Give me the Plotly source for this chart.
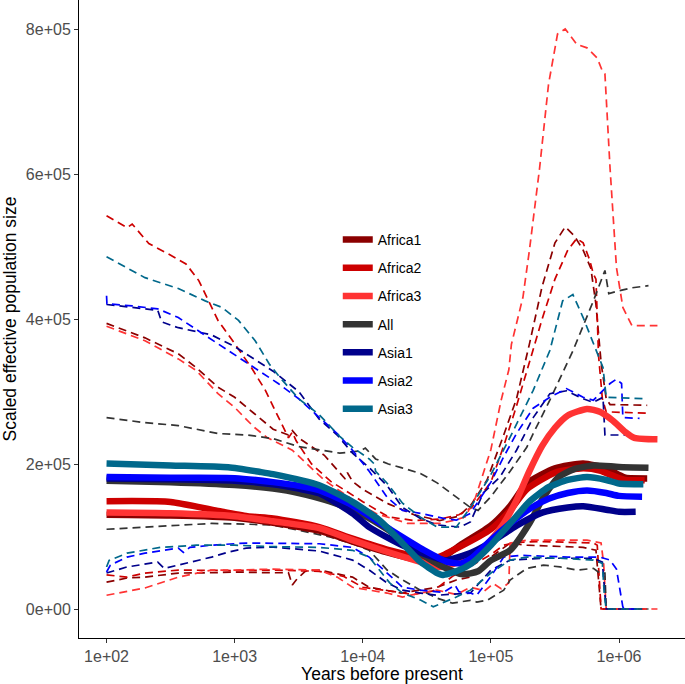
import plotly.graph_objects as go

# ---------------- data (x as log10 of years before present, y = scaled Ne) -------------
NAMES = ["Africa1", "Africa2", "Africa3", "All", "Asia1", "Asia2", "Asia3"]

X_TICK_VALUES = [1e2, 1e3, 1e4, 1e5, 1e6]
X_TICK_LABELS = ["1e+02", "1e+03", "1e+04", "1e+05", "1e+06"]
Y_TICK_VALUES = [0, 2e5, 4e5, 6e5, 8e5]
Y_TICK_LABELS = ["0e+00", "2e+05", "4e+05", "6e+05", "8e+05"]

# median (solid) lines
africa1_logx = [2.0, 2.5, 3.0, 3.3, 3.66, 3.92, 4.19, 4.45, 4.57, 4.76, 5.0, 5.15, 5.28, 5.5, 5.72, 5.9, 6.0, 6.05, 6.22]
africa1_ne = [130000, 129000, 126000, 119000, 108000, 93000, 78000, 67000, 65000, 88000, 115000, 142000, 173000, 194000, 200600, 194000, 185000, 181000, 180000]
africa2_logx = [2.0, 2.5, 2.85, 3.1, 3.3, 3.66, 3.92, 4.19, 4.45, 4.58, 4.76, 5.0, 5.15, 5.28, 5.5, 5.72, 5.85, 5.95, 6.05, 6.2]
africa2_ne = [148700, 147700, 136000, 128000, 125000, 113000, 97000, 82000, 72000, 71000, 86000, 110000, 136000, 165000, 188000, 194000, 191000, 184000, 178000, 177600]
africa3_logx = [2.0, 2.5, 3.0, 3.3, 3.66, 3.92, 4.19, 4.45, 4.6, 4.75, 4.9, 5.0, 5.1, 5.2, 5.3, 5.4, 5.5, 5.6, 5.75, 5.85, 5.95, 6.05, 6.12, 6.3]
africa3_ne = [133000, 132000, 128000, 121000, 111500, 95000, 79000, 65000, 58000, 65000, 78000, 95000, 118000, 150000, 190000, 225000, 250000, 267000, 276000, 272000, 260000, 244000, 236000, 234000]
all_logx = [2.0, 2.5, 3.0, 3.3, 3.5, 3.75, 4.0, 4.2, 4.45, 4.63, 4.78, 4.9, 5.0, 5.15, 5.3, 5.41, 5.53, 5.65, 5.8, 6.0, 6.23]
all_ne = [177000, 175000, 171000, 166000, 160000, 148000, 130000, 109000, 77000, 58000, 48000, 52000, 67000, 81000, 118000, 154000, 182000, 193000, 198000, 196000, 195000]
asia1_logx = [2.0, 2.5, 3.0, 3.3, 3.5, 3.66, 3.92, 4.05, 4.31, 4.58, 4.65, 4.85, 5.0, 5.2, 5.4, 5.6, 5.72, 5.9, 6.0, 6.13]
asia1_ne = [180000, 179000, 177000, 172000, 166000, 159500, 132000, 113000, 88000, 70000, 67000, 78000, 92000, 115000, 133000, 140000, 141800, 137000, 134000, 134000]
asia2_logx = [2.0, 2.5, 3.0, 3.3, 3.5, 3.66, 3.92, 4.22, 4.48, 4.66, 4.77, 4.85, 5.0, 5.15, 5.3, 5.45, 5.6, 5.75, 5.9, 6.0, 6.18]
asia2_ne = [182000, 181000, 180500, 175000, 170000, 164000, 143000, 109000, 81000, 65000, 63000, 70000, 95000, 118000, 138000, 152000, 160000, 163500, 160000, 156000, 155000]
asia3_logx = [2.0, 2.5, 2.95, 3.2, 3.3, 3.66, 3.92, 4.13, 4.31, 4.45, 4.58, 4.62, 4.73, 4.85, 5.0, 5.1, 5.2, 5.3, 5.45, 5.6, 5.75, 5.9, 6.0, 6.19]
asia3_ne = [200600, 198000, 195500, 189000, 186000, 170700, 147800, 122500, 90800, 65000, 49600, 47000, 52000, 63000, 88000, 108000, 128000, 148000, 168000, 178000, 182000, 178000, 173000, 172000]

# upper (dashed) bounds
africa1_up_logx = [2.0, 2.3, 2.56, 2.7, 2.87, 3.0, 3.15, 3.3, 3.42, 3.45, 3.5, 3.7, 3.86, 3.88, 3.92, 4.0, 4.2, 4.4, 4.6, 4.75, 4.85, 4.97, 5.1, 5.2, 5.3, 5.4, 5.5, 5.58, 5.65, 5.72, 5.78, 5.82, 5.86, 5.9, 5.93, 6.22]
africa1_up_ne = [394000, 374000, 352000, 333000, 306000, 292000, 270000, 248000, 240000, 246000, 236000, 212000, 180000, 188000, 176000, 165000, 145000, 130000, 122000, 128000, 145000, 178000, 240000, 290000, 365000, 445000, 505000, 527000, 515000, 495000, 470000, 420000, 340000, 290000, 282000, 281000]
africa2_up_logx = [2.0, 2.16, 2.2, 2.33, 2.48, 2.62, 2.72, 2.77, 2.87, 3.0, 3.13, 3.24, 3.34, 3.42, 3.45, 3.48, 3.6, 3.75, 3.85, 4.0, 4.2, 4.4, 4.6, 4.75, 4.85, 5.0, 5.1, 5.2, 5.3, 5.4, 5.5, 5.6, 5.67, 5.72, 5.77, 5.8, 5.82, 5.84, 5.87, 5.9, 6.22]
africa2_up_ne = [542500, 526000, 531000, 504000, 490000, 476000, 453000, 435000, 398000, 366000, 333000, 301500, 264000, 236000, 244000, 232000, 200000, 176000, 165000, 148000, 127000, 122000, 124000, 130000, 140000, 175000, 225000, 280000, 340000, 400000, 455000, 495000, 511000, 505000, 482000, 462000, 455000, 350000, 290000, 272000, 270000]
africa3_up_logx = [2.0, 2.3, 2.56, 2.7, 2.87, 3.0, 3.15, 3.25, 3.45, 3.7, 3.96, 4.1, 4.35, 4.6, 4.72, 4.8, 4.88, 5.0, 5.08, 5.14, 5.16, 5.25, 5.3, 5.38, 5.45, 5.52, 5.58, 5.67, 5.75, 5.83, 5.87, 5.89, 5.93, 5.98, 6.03, 6.1, 6.3]
africa3_up_ne = [390000, 370000, 345000, 329000, 297000, 278000, 251000, 237000, 219000, 177600, 146000, 132000, 118000, 118000, 122500, 127000, 154000, 220000, 288000, 330000, 365000, 430000, 494000, 608000, 724000, 793000, 800000, 779000, 774000, 760000, 742000, 738000, 608000, 471000, 416000, 391000, 391000]
all_up_logx = [2.0, 2.3, 2.56, 2.77, 2.87, 3.1, 3.3, 3.5, 3.7, 3.82, 3.98, 4.02, 4.1, 4.2, 4.3, 4.45, 4.58, 4.73, 4.84, 4.9, 5.0, 5.15, 5.28, 5.33, 5.46, 5.64, 5.8, 5.89, 5.92, 6.0, 6.1, 6.23]
all_up_ne = [264000, 257000, 253000, 246000, 242000, 240000, 235000, 224000, 218000, 215000, 218000, 222000, 207000, 200000, 195000, 187000, 174000, 154000, 140000, 136000, 155000, 190000, 223000, 242000, 288000, 356000, 425000, 467000, 435000, 439000, 443000, 446000]
asia1_up_logx = [2.0, 2.2, 2.4, 2.43, 2.56, 2.82, 3.0, 3.15, 3.3, 3.5, 3.66, 3.8, 3.92, 4.05, 4.19, 4.31, 4.45, 4.58, 4.76, 4.84, 4.94, 5.07, 5.2, 5.33, 5.46, 5.59, 5.72, 5.8, 5.875, 5.89, 6.13]
asia1_up_ne = [420000, 416000, 412000, 396000, 388000, 378000, 362000, 345000, 328000, 300000, 262000, 240000, 215000, 195000, 170000, 140000, 125000, 116000, 113000, 120000, 160000, 182000, 219000, 264000, 297000, 301000, 290000, 285000, 292000, 240000, 240000]
asia2_up_logx = [2.0, 2.003, 2.2, 2.4, 2.56, 2.82, 3.0, 3.18, 3.34, 3.5, 3.66, 3.8, 3.92, 4.05, 4.19, 4.31, 4.45, 4.63, 4.73, 4.84, 5.0, 5.1, 5.2, 5.33, 5.46, 5.59, 5.72, 5.8, 5.85, 5.93, 5.98, 6.02, 6.03, 6.16]
asia2_up_ne = [432000, 421000, 418000, 414000, 402000, 372000, 350000, 330000, 311000, 290000, 264000, 242000, 219000, 190000, 154000, 136000, 132000, 125000, 122500, 132000, 175000, 210000, 242000, 277000, 292000, 304000, 292000, 288000, 297000, 311000, 317000, 311000, 264000, 263000]
asia3_up_logx = [2.0, 2.3, 2.56, 2.77, 2.9, 3.03, 3.16, 3.27, 3.35, 3.5, 3.66, 3.82, 3.92, 4.05, 4.09, 4.1, 4.19, 4.31, 4.45, 4.58, 4.73, 4.84, 4.99, 5.15, 5.33, 5.46, 5.56, 5.64, 5.72, 5.8, 5.875, 5.9, 6.19]
asia3_up_ne = [486000, 457000, 442000, 425000, 416000, 398000, 370000, 338000, 320000, 290000, 268000, 238000, 223000, 207000, 200000, 190000, 173500, 146000, 126700, 113000, 113000, 140000, 182000, 237000, 301600, 356600, 425000, 433700, 402000, 366000, 333000, 292000, 290000]

# lower (dashed) bounds
africa1_lo_logx = [2.0, 2.16, 2.3, 2.56, 2.82, 3.0, 3.3, 3.42, 3.45, 3.48, 3.55, 3.66, 3.92, 4.05, 4.3, 4.58, 4.73, 4.84, 5.0, 5.15, 5.28, 5.5, 5.72, 5.82, 5.84, 5.86, 6.22]
africa1_lo_ne = [37000, 42700, 44000, 49600, 50000, 51000, 50000, 50000, 33000, 40000, 52000, 53700, 44000, 30000, 22000, 30000, 40000, 44000, 71600, 91000, 88000, 87000, 85000, 81000, 40000, 0, 0]
africa2_lo_logx = [2.0, 2.16, 2.3, 2.56, 3.0, 3.3, 3.66, 3.85, 4.0, 4.2, 4.4, 4.55, 4.7, 4.85, 5.0, 5.1, 5.2, 5.4, 5.6, 5.8, 5.83, 5.85, 5.86, 6.2]
africa2_lo_ne = [47000, 44000, 49600, 53700, 53000, 53700, 52000, 45000, 30000, 25000, 20000, 25000, 45000, 60000, 75000, 88000, 92000, 93000, 92000, 91000, 88000, 30000, 0, 0]
africa3_lo_logx = [2.0, 2.3, 2.56, 2.82, 3.0, 3.3, 3.66, 3.8, 3.92, 4.05, 4.19, 4.31, 4.45, 4.58, 4.73, 4.84, 4.95, 5.02, 5.08, 5.14, 5.15, 5.28, 5.5, 5.75, 5.86, 5.88, 5.9, 6.3]
africa3_lo_ne = [19000, 29000, 44000, 53700, 53700, 55000, 53700, 44000, 30000, 26000, 22000, 16500, 22000, 26000, 20000, 30000, 25000, 35000, 28000, 36000, 91000, 95000, 95000, 95000, 91000, 63000, 0, 0]
all_lo_logx = [2.0, 2.3, 2.56, 2.82, 3.1, 3.3, 3.5, 3.75, 3.92, 4.05, 4.19, 4.31, 4.45, 4.58, 4.7, 4.84, 4.89, 4.97, 5.1, 5.15, 5.28, 5.41, 5.54, 5.67, 5.8, 5.85, 5.89, 5.9, 6.23]
all_lo_ne = [110000, 113000, 115700, 118000, 117000, 115700, 108800, 99000, 90000, 81000, 53700, 40000, 26000, 15000, 8000, 12000, 9600, 12000, 26000, 40000, 56000, 60600, 58000, 53700, 56000, 49600, 49600, 0, 0]
asia1_lo_logx = [2.0, 2.16, 2.4, 2.45, 2.56, 2.82, 2.95, 3.09, 3.3, 3.66, 3.92, 4.05, 4.19, 4.31, 4.45, 4.58, 4.84, 5.0, 5.15, 5.41, 5.8, 5.87, 5.89, 5.9, 6.13]
asia1_lo_ne = [49600, 58000, 64700, 56000, 60600, 71600, 78500, 84000, 85400, 80000, 67500, 53700, 36000, 26000, 22000, 19000, 22000, 53700, 67500, 70000, 70000, 64700, 20000, 0, 0]
asia2_lo_logx = [2.0, 2.03, 2.16, 2.3, 2.56, 2.6, 2.65, 2.82, 3.09, 3.3, 3.66, 3.92, 4.05, 4.19, 4.31, 4.45, 4.63, 4.72, 4.75, 4.84, 4.89, 5.0, 5.1, 5.23, 5.6, 5.85, 5.93, 5.98, 6.03, 6.05, 6.18]
asia2_lo_ne = [51000, 60600, 71600, 77000, 84000, 78000, 85000, 88000, 91000, 91000, 90000, 85000, 71600, 49600, 30000, 26000, 23000, 33000, 24000, 22000, 19000, 45000, 71600, 74000, 71600, 71600, 67500, 55000, 2700, 0, 0]
asia3_lo_logx = [2.0, 2.02, 2.16, 2.42, 2.7, 3.0, 3.3, 3.66, 3.92, 4.05, 4.13, 4.21, 4.31, 4.45, 4.55, 4.73, 4.84, 5.0, 5.15, 5.28, 5.54, 5.8, 5.87, 5.885, 5.9, 6.19]
asia3_lo_ne = [58000, 67000, 77000, 85000, 88000, 88000, 86000, 85000, 81000, 71600, 53700, 36000, 22000, 12400, 3000, 16500, 26000, 49600, 67500, 71600, 70000, 67500, 63000, 20000, 0, 0]

# ---------------- styling -------------
COLORS = ["#8B0000", "#CD0000", "#FF3333", "#333333", "#00008B", "#0000FF", "#00688B"]
FONT = "Liberation Sans, Arial, Helvetica, sans-serif"

solid = [(africa1_logx, africa1_ne), (africa2_logx, africa2_ne), (africa3_logx, africa3_ne),
         (all_logx, all_ne), (asia1_logx, asia1_ne), (asia2_logx, asia2_ne), (asia3_logx, asia3_ne)]
upper = [(africa1_up_logx, africa1_up_ne), (africa2_up_logx, africa2_up_ne), (africa3_up_logx, africa3_up_ne),
         (all_up_logx, all_up_ne), (asia1_up_logx, asia1_up_ne), (asia2_up_logx, asia2_up_ne), (asia3_up_logx, asia3_up_ne)]
lower = [(africa1_lo_logx, africa1_lo_ne), (africa2_lo_logx, africa2_lo_ne), (africa3_lo_logx, africa3_lo_ne),
         (all_lo_logx, all_lo_ne), (asia1_lo_logx, asia1_lo_ne), (asia2_lo_logx, asia2_lo_ne), (asia3_lo_logx, asia3_lo_ne)]


def years(logx):
    return [10 ** v for v in logx]


fig = go.Figure()

for name, color, up, lo in zip(NAMES, COLORS, upper, lower):
    for lx, ne in (up, lo):
        fig.add_trace(go.Scatter(
            x=years(lx), y=ne, mode="lines", legendgroup=name, showlegend=False,
            line=dict(color=color, width=1.7, dash="8px,5px"), hoverinfo="skip"))

for name, color, (lx, ne) in zip(NAMES, COLORS, solid):
    fig.add_trace(go.Scatter(
        x=years(lx), y=ne, mode="lines", name=name, legendgroup=name,
        line=dict(color=color, width=6.5, shape="spline", smoothing=0.6)))

axis_common = dict(showgrid=False, zeroline=False, showline=True, linecolor="black", linewidth=1,
                   ticks="outside", ticklen=4, tickcolor="#333333",
                   tickfont=dict(size=16, color="#4D4D4D", family=FONT), automargin=False)

fig.update_layout(
    width=685, height=684,
    margin=dict(l=79, r=0, t=0, b=46),
    paper_bgcolor="white", plot_bgcolor="white",
    font=dict(family=FONT, color="black"),
    xaxis=dict(type="log", range=[1.785, 6.515], tickvals=X_TICK_VALUES, ticktext=X_TICK_LABELS,
               title=dict(text="Years before present", font=dict(size=17.5, family=FONT, color="black"), standoff=2),
               **axis_common),
    yaxis=dict(range=[-40000, 840000], tickvals=Y_TICK_VALUES, ticktext=Y_TICK_LABELS,
               title=dict(text="Scaled effective population size", font=dict(size=17.5, family=FONT, color="black"), standoff=10),
               **axis_common),
    legend=dict(x=0.427, y=0.649, xanchor="left", yanchor="top", bgcolor="rgba(0,0,0,0)",
                font=dict(size=14, family=FONT, color="black"), tracegroupgap=7, traceorder="grouped"),
    showlegend=True,
)

fig.write_html("out.html", config={"displayModeBar": False},
               post_script="document.body.style.margin='0';document.body.style.padding='0';document.body.style.overflow='hidden';")
